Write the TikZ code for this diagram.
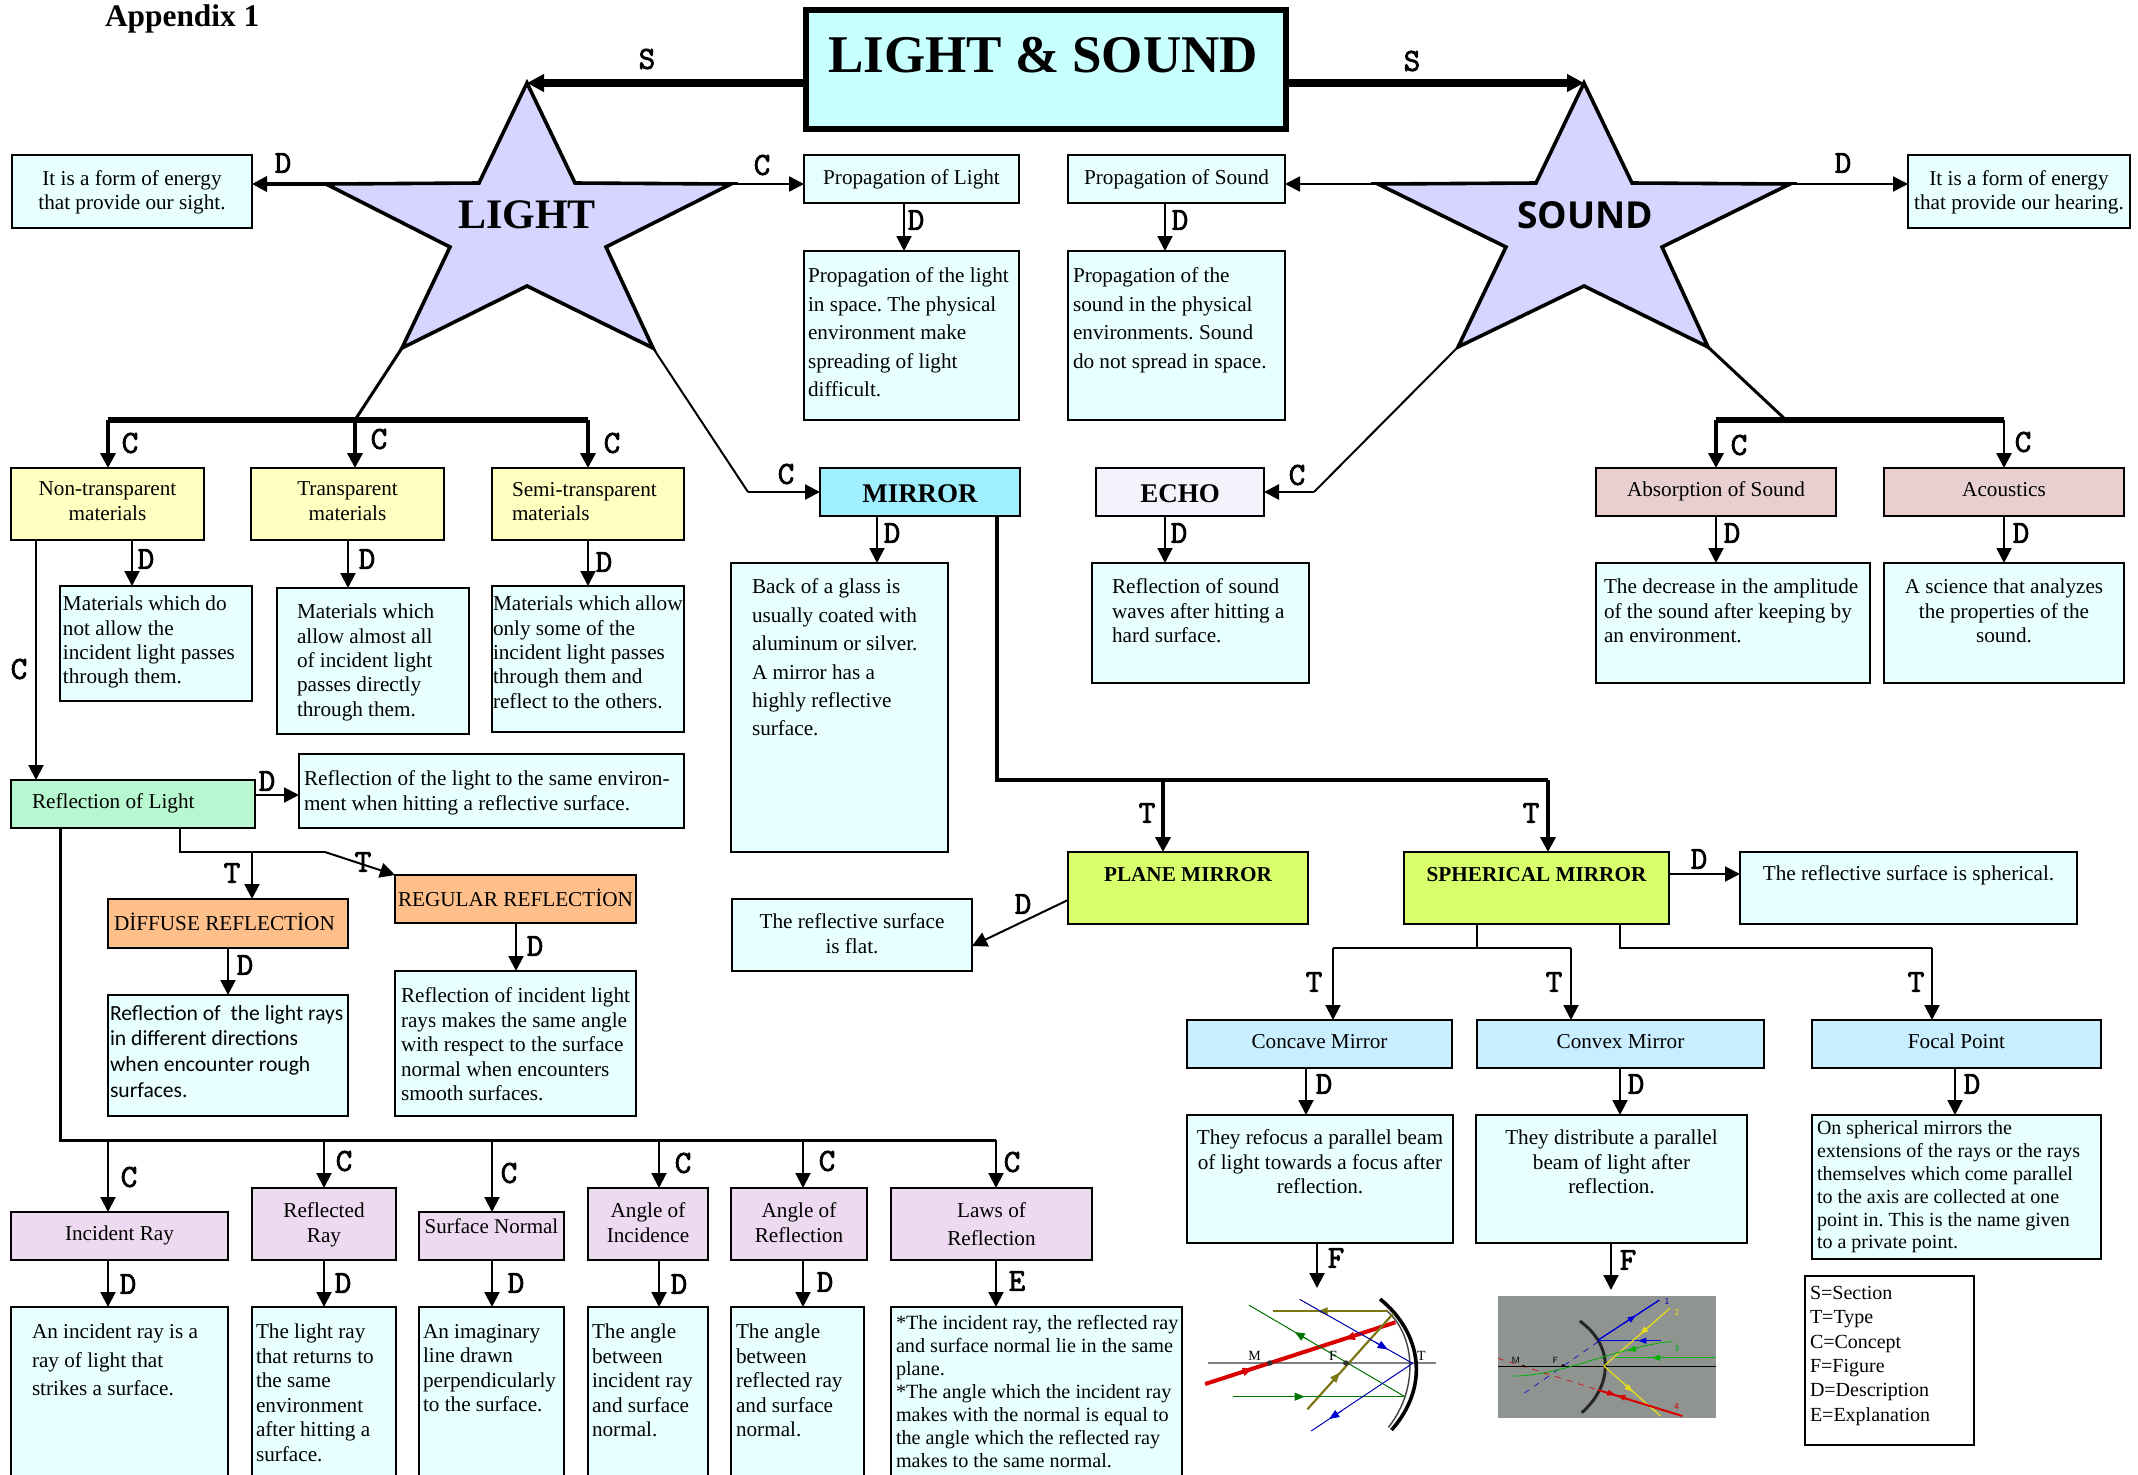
\documentclass[tikz,border=0pt]{standalone}
\usepackage{fontspec}
\setmainfont{Liberation Serif}
\newfontfamily\calfont{Carlito}
\newfontfamily\sndfont{Open Sans}
\newfontfamily\lblfont[FakeBold=2.5]{Latin Modern Mono}
\frenchspacing
\usetikzlibrary{arrows.meta,calc}
\definecolor{cdesc}{HTML}{E8FFFF}
\definecolor{ctitle}{HTML}{C8FFFF}
\definecolor{cstar}{HTML}{D5D5FF}
\definecolor{cyel}{HTML}{FFFFC0}
\definecolor{cmir}{HTML}{9FEFFF}
\definecolor{cecho}{HTML}{F5F3FC}
\definecolor{cabs}{HTML}{E8D0D0}
\definecolor{cgreen}{HTML}{B8F8D0}
\definecolor{corange}{HTML}{FFBF8A}
\definecolor{cpurple}{HTML}{EEDAF0}
\definecolor{clime}{HTML}{D8FF6C}
\definecolor{csky}{HTML}{C8EEFF}
\definecolor{cfig}{HTML}{8F9490}
\newdimen\ux \ux=.5pt
\newcommand\fs[2]{\fontsize{#1}{#2}\selectfont}
% name, style, x0,y0,x1,y1, toppad, format, text
\newcommand\bx[9]{%
  \pgfmathsetlengthmacro\bw{(#5-#3)*0.5pt}%
  \pgfmathsetlengthmacro\bh{(#6-#4)*0.5pt}%
  \node[#2,anchor=north west] (#1) at (#3,#4)
    {\parbox[c][\bh][t]{\bw}{\frenchspacing\vspace*{#7\ux}#8 #9\par}};}
\newcommand\cen{\centering\fs{10.6}{13}}
\newcommand\lft[1]{\raggedright\leftskip=#1\ux\rightskip=0pt minus 20pt\fs{10.6}{14.2}}
\newcommand\va[3]{\draw[arr] (#1.south -| #2,0) -- (#3.north -| #2,0);}
\newcommand\lb[3]{\node[lbl] (#1) at (#2) {#3};}
\tikzset{
  every node/.style={inner sep=0pt,outer sep=0pt},
  basebox/.style={draw=black,line width=1.1pt},
  desc/.style={basebox,fill=cdesc},
  yel/.style={basebox,fill=cyel},
  abs/.style={basebox,fill=cabs},
  pur/.style={basebox,fill=cpurple},
  sky/.style={basebox,fill=csky},
  lime/.style={basebox,fill=clime},
  arr/.style={line width=1pt,-{Triangle[length=7.5pt,width=7.5pt]}},
  arrm/.style={line width=1.3pt,-{Triangle[length=7.5pt,width=7.5pt]}},
  arrb/.style={line width=3.6pt,-{Triangle[length=8.5pt,width=8.5pt]}},
  bus/.style={line width=2.6pt},
  lin/.style={line width=1pt},
  linm/.style={line width=1.5pt},
  lbl/.style={font=\lblfont\fontsize{16}{16}\selectfont},
  starshape/.style={draw=black,fill=cstar,line width=1.8pt,line join=miter},
  fl/.style={font=\fontsize{7}{8}\selectfont},
}
\begin{document}
\begin{tikzpicture}[x=0.5pt,y=-0.5pt]
\useasboundingbox (0,0) rectangle (2138,1474);
\clip (0,0) rectangle (2138,1474);

\node[anchor=west,font=\bfseries\fontsize{15.7}{18}\selectfont] (app) at (105,19) {Appendix 1};

% title
\node[draw=black,fill=ctitle,line width=3pt,minimum width=480\ux,minimum height=119\ux,anchor=north west] (title) at (805.5,10) {};
\node[font=\bfseries\fontsize{26.5}{30}\selectfont] (titletxt) at (1043,55) {LIGHT \& SOUND};

% stars
\coordinate (Ltop) at (527,83); \coordinate (Lr) at (731,184); \coordinate (Ll) at (326,184);
\coordinate (Lbr) at (653,348); \coordinate (Lbl) at (402,348);
\draw[starshape] (Ltop) -- (575,183) -- (Lr) -- (606,247) -- (Lbr) -- (527,286) -- (Lbl) -- (450,247) -- (Ll) -- (479,183) -- cycle;
\node[font=\bfseries\fontsize{21}{24}\selectfont] (light) at (527,215) {LIGHT};
\coordinate (Stop) at (1584,83); \coordinate (Sr) at (1790,184); \coordinate (Sl) at (1378,184);
\coordinate (Sbr) at (1708,347); \coordinate (Sbl) at (1458,347);
\draw[starshape] (Stop) -- (1632,183) -- (Sr) -- (1662,247) -- (Sbr) -- (1584,286) -- (Sbl) -- (1506,247) -- (Sl) -- (1536,183) -- cycle;
\node[font=\sndfont\bfseries\fontsize{18.6}{20}\selectfont] (sound) at (1585,215) {SOUND};

% top row
\bx{d1}{desc}{12}{155}{252}{228}{16}{\centering\fs{10.6}{11.8}}{It is a form of energy\\that provide our sight.}
\bx{pl}{desc}{804}{155}{1019}{203}{15}{\cen}{Propagation of Light}
\bx{pld}{desc}{804}{251}{1019}{420}{17}{\lft{4}}{Propagation of the light\\in space. The physical\\environment make\\spreading of light\\difficult.}
\bx{ps}{desc}{1068}{155}{1285}{203}{15}{\cen}{Propagation of Sound}
\bx{psd}{desc}{1068}{251}{1285}{420}{17}{\lft{5}}{Propagation of the\\sound in the physical\\environments. Sound\\do not spread in space.}
\bx{d2}{desc}{1908}{155}{2130}{228}{16}{\centering\fs{10.6}{11.8}}{It is a form of energy\\that provide our hearing.}

% second row
\bx{nt}{yel}{11}{468}{204}{540}{14}{\centering\fs{10.6}{12.2}}{Non-transparent\\materials}
\bx{tr}{yel}{251}{468}{444}{540}{14}{\centering\fs{10.6}{12.2}}{Transparent\\materials}
\bx{st}{yel}{492}{468}{684}{540}{14}{\raggedright\leftskip=20\ux\fs{10.6}{12.2}}{Semi-transparent\\materials}
\bx{mir}{basebox,fill=cmir}{820}{468}{1020}{516}{17}{\centering\bfseries\fs{13.5}{14}}{MIRROR}
\bx{echo}{basebox,fill=cecho}{1096}{468}{1264}{516}{17}{\centering\bfseries\fs{13.5}{14}}{ECHO}
\bx{abso}{abs}{1596}{468}{1836}{516}{14}{\cen}{Absorption of Sound}
\bx{aco}{abs}{1884}{468}{2124}{516}{14}{\cen}{Acoustics}

% descriptions under second row
\bx{m1}{desc}{60}{586}{252}{701}{10}{\raggedright\leftskip=3\ux\fs{10.6}{12.2}}{Materials which do\\not allow the\\incident light passes\\through them.}
\bx{m2}{desc}{277}{588}{469}{734}{16}{\raggedright\leftskip=20\ux\fs{10.6}{12.2}}{Materials which\\allow almost all\\of incident light\\passes directly\\through them.}
\bx{m3}{desc}{492}{586}{684}{732}{10}{\raggedright\leftskip=1\ux\fs{10.6}{12.2}}{Materials which allow\\only some of the\\incident light passes\\through them and\\reflect to the others.}
\bx{mird}{desc}{731}{563}{948}{852}{16}{\raggedright\leftskip=21\ux\fs{10.6}{14.2}}{Back of a glass is\\usually coated with\\aluminum or silver.\\A mirror has a\\highly reflective\\surface.}
\bx{echod}{desc}{1092}{563}{1309}{683}{16}{\raggedright\leftskip=20\ux\fs{10.6}{12.2}}{Reflection of sound\\waves after hitting a\\hard surface.}
\bx{absd}{desc}{1596}{563}{1870}{683}{16}{\raggedright\leftskip=8\ux\fs{10.6}{12.2}}{The decrease in the amplitude\\of the sound after keeping by\\an environment.}
\bx{acod}{desc}{1884}{563}{2124}{683}{16}{\centering\fs{10.6}{12.2}}{A science that analyzes\\the properties of the\\sound.}

% reflection of light
\bx{rl}{basebox,fill=cgreen}{11}{780}{255}{828}{14}{\raggedright\leftskip=21\ux\fs{10.6}{13}}{Reflection of Light}
\bx{rld}{desc}{299}{754}{684}{828}{17}{\raggedright\leftskip=5\ux\fs{10.6}{12.2}}{Reflection of the light to the same environ-\\ment when hitting a reflective surface.}
\bx{dif}{basebox,fill=corange}{108}{899}{348}{948}{14}{\raggedright\leftskip=6\ux\fs{10.6}{13}}{DİFFUSE REFLECTİON}
\bx{reg}{basebox,fill=corange}{395}{875}{636}{923}{14}{\cen}{REGULAR REFLECTİON}
\bx{difd}{desc}{108}{995}{348}{1116}{10}{\raggedright\leftskip=2\ux\calfont\fs{10.8}{12.9}}{Reflection of \ the light rays\\in different directions\\when encounter rough\\surfaces.}
\bx{regd}{desc}{395}{971}{636}{1116}{17}{\raggedright\leftskip=6\ux\fs{10.6}{12.2}}{Reflection of incident light\\rays makes the same angle\\with respect to the surface\\normal when encounters\\smooth surfaces.}

% bottom row
\bx{inc}{pur}{11}{1212}{228}{1260}{14}{\cen}{Incident Ray}
\bx{rr}{pur}{252}{1188}{396}{1260}{15}{\centering\fs{10.6}{12.2}}{Reflected\\Ray}
\bx{sn}{pur}{419}{1212}{564}{1260}{7}{\centering\fs{10.5}{12}}{Surface Normal}
\bx{ai}{pur}{588}{1188}{708}{1260}{15}{\centering\fs{10.6}{12.2}}{Angle of\\Incidence}
\bx{ar}{pur}{731}{1188}{867}{1260}{15}{\centering\fs{10.6}{12.2}}{Angle of\\Reflection}
\bx{la}{pur}{891}{1188}{1092}{1260}{15}{\centering\fs{10.6}{13.6}}{Laws of\\Reflection}
\bx{incd}{desc}{11}{1307}{228}{1490}{17}{\raggedright\leftskip=21\ux\fs{10.6}{14.2}}{An incident ray is a\\ray of light that\\strikes a surface.}
\bx{rrd}{desc}{252}{1307}{396}{1490}{17}{\raggedright\leftskip=4\ux\fs{10.6}{12.25}}{The light ray\\that returns to\\the same\\environment\\after hitting a\\surface.}
\bx{snd}{desc}{419}{1307}{564}{1490}{17}{\raggedright\leftskip=4\ux\fs{10.6}{12.25}}{An imaginary\\line drawn\\perpendicularly\\to the surface.}
\bx{aid}{desc}{588}{1307}{708}{1490}{17}{\raggedright\leftskip=4\ux\fs{10.6}{12.25}}{The angle\\between\\incident ray\\and surface\\normal.}
\bx{ard}{desc}{731}{1307}{864}{1490}{17}{\raggedright\leftskip=5\ux\fs{10.6}{12.25}}{The angle\\between\\reflected ray\\and surface\\normal.}
\bx{lad}{desc}{891}{1307}{1182}{1490}{8}{\raggedright\leftskip=5\ux\rightskip=0pt minus 10pt\fs{10.1}{11.55}}{*The incident ray, the reflected ray\\and surface normal lie in the same\\plane.\\{}*The angle which the incident ray\\makes with the normal is equal to\\the angle which the reflected ray\\makes to the same normal.}

% mirrors
\bx{pm}{lime}{1068}{852}{1308}{924}{15}{\centering\bfseries\fs{10.6}{12}}{PLANE MIRROR}
\bx{sm}{lime}{1404}{852}{1669}{924}{15}{\centering\bfseries\fs{10.6}{12}}{SPHERICAL MIRROR}
\bx{pmd}{desc}{732}{899}{972}{971}{15}{\centering\fs{10.6}{12.2}}{The reflective surface\\is flat.}
\bx{smd}{desc}{1740}{852}{2077}{924}{14}{\centering\fs{10.6}{12.2}}{The reflective surface is spherical.}
\bx{cc}{sky}{1187}{1020}{1452}{1068}{14}{\cen}{Concave Mirror}
\bx{cv}{sky}{1477}{1020}{1764}{1068}{14}{\cen}{Convex Mirror}
\bx{fp}{sky}{1812}{1020}{2101}{1068}{14}{\cen}{Focal Point}
\bx{ccd}{desc}{1187}{1115}{1453}{1243}{15}{\centering\fs{10.6}{12.2}}{They refocus a parallel beam\\of light towards a focus after\\reflection.}
\bx{cvd}{desc}{1476}{1115}{1747}{1243}{15}{\centering\fs{10.6}{12.2}}{They distribute a parallel\\beam of light after\\reflection.}
\bx{fpd}{desc}{1812}{1115}{2101}{1259}{6}{\raggedright\leftskip=5\ux\fs{10}{11.4}}{On spherical mirrors the\\extensions of the rays or the rays\\themselves which come parallel\\to the axis are collected at one\\point in. This is the name given\\to a private point.}
\bx{leg}{basebox,fill=white}{1805}{1276}{1974}{1445}{10}{\raggedright\leftskip=5\ux\fs{10}{12.2}}{S=Section\\T=Type\\C=Concept\\F=Figure\\D=Description\\E=Explanation}

% figures: named anchor coordinates
\coordinate (figa) at (1317,1288);
\coordinate (figb) at (1611,1290);

% connectors: title & star arms
\draw[arrb] (title.west |- Ltop) -- (Ltop);
\draw[arrb] (title.east |- Stop) -- (Stop);
\draw[arrm,line width=2pt] (Ll) -- (d1.east |- Ll);
\draw[arrm] (Lr) -- (pl.west |- Lr);
\draw[arr] (Sl) -- (ps.east |- Sl);
\draw[arr] (Sr) -- (d2.west |- Sr);
\va{pl}{904}{pld}
\va{ps}{1165}{psd}

% light bus
\coordinate (Lj) at (355,420);
\coordinate (Lb1) at (108,420); \coordinate (Lb3) at (588,420);
\draw[linm] (Lbl) -- (Lj);
\draw[bus] (Lb1) -- (Lb3);
\draw[arrm,line width=1.8pt] (Lb1) -- (nt.north -| Lb1);
\draw[arrm,line width=1.8pt] (Lj) -- (tr.north -| Lj);
\draw[arrm,line width=1.8pt] (Lb3) -- (st.north -| Lb3);
\coordinate (Lm) at (748,492);
\draw[lin] (Lbr) -- (Lm);
\draw[arrm] (Lm) -- (mir.west |- Lm);

% sound bus
\coordinate (Sj) at (1786,420);
\coordinate (Sb1) at (1716,420); \coordinate (Sb2) at (2004,420);
\draw[linm] (Sbr) -- (Sj);
\draw[bus] (Sb1) -- (Sb2);
\draw[arrm,line width=1.8pt] (Sb1) -- (abso.north -| Sb1);
\draw[arrm,line width=1.4pt] (Sb2) -- (aco.north -| Sb2);
\coordinate (Se) at (1314,492);
\draw[lin] (Sbl) -- (Se);
\draw[arrm] (Se) -- (echo.east |- Se);

\va{nt}{132}{m1}
\va{tr}{348}{m2}
\va{st}{588}{m3}
\va{mir}{877}{mird}
\va{echo}{1165}{echod}
\va{abso}{1716}{absd}
\va{aco}{2004}{acod}

% reflection
\coordinate (nrl) at (36,0);
\draw[arr] (nt.south -| nrl) -- (rl.north -| nrl);
\draw[arr] (rl.east |- 0,795) -- (rld.west |- 0,795);
\coordinate (rj) at (180,852); \coordinate (rk) at (325,852); \coordinate (rs) at (180,828);
\draw[lin] (rs) -- (rj) -- (rk);
\coordinate (rdf) at (252,852);
\draw[arr] (rdf) -- (dif.north -| rdf);
\draw[arr] (rk) -- (reg.north west);
\va{dif}{228}{difd}
\va{reg}{516}{regd}

% concept bus
\coordinate (cs) at (60,828); \coordinate (cj) at (60,1140); \coordinate (ce) at (996,1140);
\draw[linm] (cs) -- (cj) -- (ce);
\foreach \n/\xx in {inc/108,rr/324,sn/492,ai/659,ar/803,la/996}{
  \draw[arr] (\xx,1140) -- (\n.north -| \xx,0);
}
\va{inc}{108}{incd}
\va{rr}{324}{rrd}
\va{sn}{492}{snd}
\va{ai}{659}{aid}
\va{ar}{803}{ard}
\va{la}{996}{lad}

% mirror types
\coordinate (ms) at (997,516); \coordinate (mj) at (997,780); \coordinate (mp) at (1163,780); \coordinate (mq) at (1548,780);
\draw[bus,line width=2.2pt] (ms) -- (mj) -- (mq);
\draw[arrm,line width=2.2pt] (mp) -- (pm.north -| mp);
\draw[arrm,line width=2.2pt] (mq) -- (sm.north -| mq);
\draw[arr] (pm.west |- 0,900) -- (972,946);
\draw[arr] (sm.east |- 0,874) -- (smd.west |- 0,874);
\coordinate (t1) at (1477,948); \coordinate (tc) at (1333,948); \coordinate (tv) at (1571,948);
\draw[lin] (sm.south -| t1) -- (t1);
\draw[lin] (tc) -- (tv);
\draw[arr] (tc) -- (cc.north -| tc);
\draw[arr] (tv) -- (cv.north -| tv);
\coordinate (t2) at (1620,948); \coordinate (tf) at (1932,948);
\draw[lin] (sm.south -| t2) -- (t2) -- (tf);
\draw[arr] (tf) -- (fp.north -| tf);
\va{cc}{1306}{ccd}
\va{cv}{1620}{cvd}
\va{fp}{1955}{fpd}
\draw[arr] (ccd.south -| figa) -- (figa);
\draw[arr] (cvd.south -| figb) -- (figb);

% concave figure (crop coordinates)
\begin{scope}[shift={(1160,1120)},x=0.19135pt,y=-0.16667pt]
  \draw[gray,line width=1.4pt] (125,729) -- (720,729);
  \draw[black!75,line width=0.7pt] (590,570) .. controls (665,640) and (680,800) .. (597,922);
  \draw[black,line width=1.8pt] (575,537) .. controls (685,640) and (705,800) .. (605,930);
  \draw[red!85!black,line width=2pt] (118,792) -- (615,607);
  \draw[red!85!black,-{Triangle[length=5pt,width=4pt]},line width=1pt] (205,760) -- (242,746);
  \draw[red!85!black,-{Triangle[length=5pt,width=4pt]},line width=1pt] (520,643) -- (483,657);
  \draw[olive!85!black,line width=1.1pt] (295,574) -- (595,574);
  \draw[olive!85!black,line width=1.1pt] (385,868) -- (610,580);
  \draw[olive!85!black,-{Triangle[length=5pt,width=4pt]},line width=.6pt] (450,574) -- (412,574);
  \draw[olive!85!black,-{Triangle[length=5pt,width=4pt]},line width=.6pt] (445,790) -- (470,758);
  \draw[green!45!black,line width=.5pt] (232,555) -- (640,830);
  \draw[green!45!black,line width=.6pt] (190,830) -- (640,830);
  \draw[green!45!black,-{Triangle[length=5pt,width=4pt]},line width=.5pt] (385,658) -- (352,636);
  \draw[green!45!black,-{Triangle[length=5pt,width=4pt]},line width=.5pt] (340,830) -- (378,830);
  \draw[blue!70!black,line width=.5pt] (365,538) -- (660,730);
  \draw[blue!70!black,line width=.5pt] (395,933) -- (660,730);
  \draw[blue!80!black,-{Triangle[length=5pt,width=4pt]},line width=.5pt] (560,665) -- (595,688);
  \draw[blue!80!black,-{Triangle[length=5pt,width=4pt]},line width=.5pt] (475,872) -- (442,897);
  \fill[black!80] (287,729) circle[radius=8];
  \fill[black!80] (486,729) circle[radius=8];
  \node[fl] (fm) at (247,708) {M};
  \node[fl] (ff) at (452,708) {F};
  \node[fl] (ft) at (683,708) {T};
\end{scope}

% convex figure
\begin{scope}[shift={(1160,1120)},x=0.19135pt,y=-0.16667pt]
  \fill[cfig] (883,528) rectangle (1452,893);
  \draw[black,line width=.5pt] (883,739) -- (1452,739);
  \draw[black!85,line width=1.5pt] (1097,603) .. controls (1190,680) and (1180,800) .. (1102,878);
  \draw[blue!85!black,line width=.7pt] (1145,660) -- (1305,540);
  \draw[blue!85!black,line width=.7pt] (1145,662) -- (1310,662);
  \draw[blue!85!black,dashed,line width=.3pt] (1145,665) -- (945,825);
  \draw[blue!85!black,-{Triangle[length=4pt,width=3pt]},line width=.4pt] (1215,608) -- (1243,587);
  \draw[blue!85!black,-{Triangle[length=4pt,width=3pt]},line width=.4pt] (1280,662) -- (1250,662);
  \draw[yellow!90!black,line width=.6pt] (1160,738) -- (1332,565);
  \draw[yellow!90!black,line width=.6pt] (1160,738) -- (1308,888);
  \draw[yellow!90!black,-{Triangle[length=4pt,width=3pt]},line width=.4pt] (1280,617) -- (1255,642);
  \draw[yellow!90!black,-{Triangle[length=4pt,width=3pt]},line width=.4pt] (1210,790) -- (1235,815);
  \draw[green!70!black,line width=.4pt] (1450,713) -- (1190,713);
  \draw[green!70!black,line width=.4pt] (920,768) .. controls (1000,770) and (1100,730) .. (1160,710) .. controls (1220,690) and (1300,665) .. (1340,665);
  \draw[green!70!black,-{Triangle[length=4pt,width=3pt]},line width=.4pt] (1315,713) -- (1285,713);
  \draw[green!70!black,-{Triangle[length=4pt,width=3pt]},line width=.4pt] (1250,684) -- (1222,692);
  \draw[red!85!black,line width=1pt] (1145,810) -- (1365,888);
  \draw[red!85!black,dashed,line width=.3pt] (883,715) -- (1145,810);
  \draw[red!85!black,-{Triangle[length=4pt,width=3pt]},line width=.4pt] (1165,816) -- (1190,825);
  \draw[red!85!black,-{Triangle[length=4pt,width=3pt]},line width=.4pt] (1220,835) -- (1195,826);
  \fill (950,738) circle[radius=4];
  \fill (1053,736) circle[radius=4];
  \node[fl,font=\sffamily\fontsize{4.5}{5}\selectfont] (gm) at (930,722) {M};
  \node[fl,font=\sffamily\fontsize{4.5}{5}\selectfont] (gf) at (1033,720) {F};
  \node[fl,font=\sffamily\fontsize{4.5}{5}\selectfont,text=blue!80!black] (g1) at (1325,545) {1};
  \node[fl,font=\sffamily\fontsize{4.5}{5}\selectfont,text=yellow!90!black] (g2) at (1350,578) {2};
  \node[fl,font=\sffamily\fontsize{4.5}{5}\selectfont,text=green!70!black] (g3) at (1350,685) {3};
  \node[fl,font=\sffamily\fontsize{4.5}{5}\selectfont,text=red!85!black] (g4) at (1350,860) {4};
\end{scope}

% letter labels
\lb{a1}{647,59}{S}\lb{a2}{1412,61}{S}
\lb{a3}{283,163}{D}\lb{a4}{762,165}{C}\lb{a5}{916,220}{D}\lb{a6}{1180,220}{D}\lb{a7}{1843,163}{D}
\lb{a8}{130,443}{C}\lb{a9}{379,439}{C}\lb{a10}{612,443}{C}\lb{a11}{786,474}{C}
\lb{a12}{1297,475}{C}\lb{a13}{1739,445}{C}\lb{a14}{2023,442}{C}
\lb{a15}{146,559}{D}\lb{a16}{367,559}{D}\lb{a17}{604,562}{D}\lb{a18}{19,669}{C}
\lb{a19}{892,533}{D}\lb{a20}{1179,533}{D}\lb{a21}{1732,533}{D}\lb{a22}{2021,533}{D}
\lb{a23}{232,873}{T}\lb{a24}{363,862}{T}\lb{a25}{245,965}{D}\lb{a26}{535,946}{D}\lb{a27}{267,781}{D}
\lb{a28}{129,1177}{C}\lb{a29}{344,1161}{C}\lb{a30}{509,1173}{C}\lb{a31}{683,1163}{C}\lb{a32}{827,1161}{C}\lb{a33}{1012,1162}{C}
\lb{a34}{128,1284}{D}\lb{a35}{343,1283}{D}\lb{a36}{516,1283}{D}\lb{a37}{679,1284}{D}\lb{a38}{825,1282}{D}\lb{a39}{1017,1281}{E}
\lb{a40}{1147,813}{T}\lb{a41}{1531,813}{T}\lb{a42}{1023,904}{D}\lb{a43}{1699,859}{D}
\lb{a44}{1314,982}{T}\lb{a45}{1554,982}{T}\lb{a46}{1916,982}{T}
\lb{a47}{1324,1084}{D}\lb{a48}{1636,1084}{D}\lb{a49}{1972,1084}{D}
\lb{a50}{1336,1258}{F}\lb{a51}{1628,1260}{F}
\end{tikzpicture}
\end{document}
